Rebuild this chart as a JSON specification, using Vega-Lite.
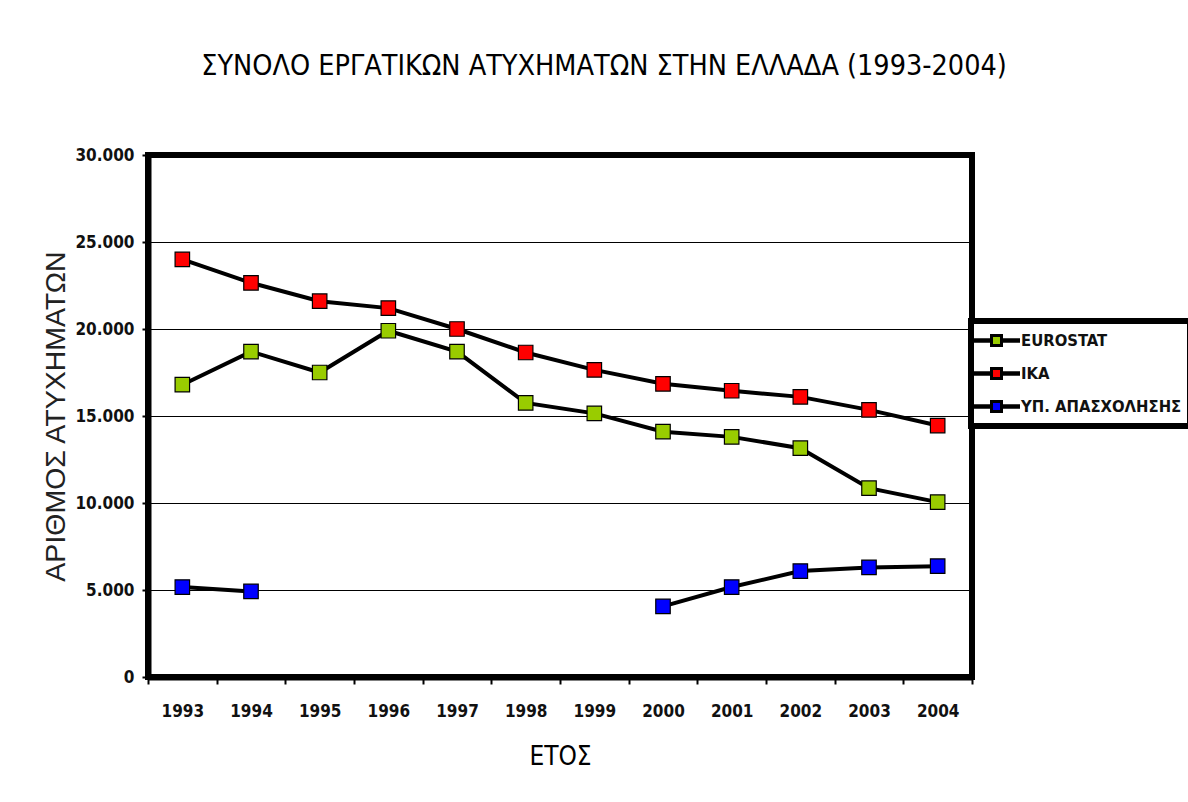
{
  "$schema": "https://vega.github.io/schema/vega-lite/v6.json",
  "width": 824,
  "height": 522,
  "autosize": "none",
  "padding": {"left": 148, "top": 155, "right": 216, "bottom": 125},
  "background": "white",
  "title": {
    "text": "ΣΥΝΟΛΟ ΕΡΓΑΤΙΚΩΝ ΑΤΥΧΗΜΑΤΩΝ ΣΤΗΝ ΕΛΛΑΔΑ (1993-2004)",
    "font": "DejaVu Sans Condensed, Liberation Sans, sans-serif",
    "fontSize": 28.5,
    "fontWeight": "normal",
    "color": "black",
    "anchor": "middle",
    "dx": 44,
    "offset": 66
  },
  "config": {
    "locale": {"number": {"decimal": ",", "thousands": ".", "grouping": [3], "currency": ["", " €"]}},
    "view": {"stroke": "black", "strokeWidth": 6}
  },
  "data": {
    "values": [
      {"year": "1993", "series": "EUROSTAT", "value": 16800},
      {"year": "1994", "series": "EUROSTAT", "value": 18700},
      {"year": "1995", "series": "EUROSTAT", "value": 17500},
      {"year": "1996", "series": "EUROSTAT", "value": 19900},
      {"year": "1997", "series": "EUROSTAT", "value": 18700},
      {"year": "1998", "series": "EUROSTAT", "value": 15750},
      {"year": "1999", "series": "EUROSTAT", "value": 15150},
      {"year": "2000", "series": "EUROSTAT", "value": 14100},
      {"year": "2001", "series": "EUROSTAT", "value": 13800},
      {"year": "2002", "series": "EUROSTAT", "value": 13150},
      {"year": "2003", "series": "EUROSTAT", "value": 10850},
      {"year": "2004", "series": "EUROSTAT", "value": 10050},
      {"year": "1993", "series": "ΙΚΑ", "value": 24000},
      {"year": "1994", "series": "ΙΚΑ", "value": 22650},
      {"year": "1995", "series": "ΙΚΑ", "value": 21600},
      {"year": "1996", "series": "ΙΚΑ", "value": 21200},
      {"year": "1997", "series": "ΙΚΑ", "value": 20000},
      {"year": "1998", "series": "ΙΚΑ", "value": 18650},
      {"year": "1999", "series": "ΙΚΑ", "value": 17650},
      {"year": "2000", "series": "ΙΚΑ", "value": 16850},
      {"year": "2001", "series": "ΙΚΑ", "value": 16450},
      {"year": "2002", "series": "ΙΚΑ", "value": 16100},
      {"year": "2003", "series": "ΙΚΑ", "value": 15350},
      {"year": "2004", "series": "ΙΚΑ", "value": 14450},
      {"year": "1993", "series": "ΥΠ. ΑΠΑΣΧΟΛΗΣΗΣ", "value": 5170},
      {"year": "1994", "series": "ΥΠ. ΑΠΑΣΧΟΛΗΣΗΣ", "value": 4920},
      {"year": "1995", "series": "ΥΠ. ΑΠΑΣΧΟΛΗΣΗΣ", "value": null},
      {"year": "1996", "series": "ΥΠ. ΑΠΑΣΧΟΛΗΣΗΣ", "value": null},
      {"year": "1997", "series": "ΥΠ. ΑΠΑΣΧΟΛΗΣΗΣ", "value": null},
      {"year": "1998", "series": "ΥΠ. ΑΠΑΣΧΟΛΗΣΗΣ", "value": null},
      {"year": "1999", "series": "ΥΠ. ΑΠΑΣΧΟΛΗΣΗΣ", "value": null},
      {"year": "2000", "series": "ΥΠ. ΑΠΑΣΧΟΛΗΣΗΣ", "value": 4060},
      {"year": "2001", "series": "ΥΠ. ΑΠΑΣΧΟΛΗΣΗΣ", "value": 5170},
      {"year": "2002", "series": "ΥΠ. ΑΠΑΣΧΟΛΗΣΗΣ", "value": 6090},
      {"year": "2003", "series": "ΥΠ. ΑΠΑΣΧΟΛΗΣΗΣ", "value": 6300},
      {"year": "2004", "series": "ΥΠ. ΑΠΑΣΧΟΛΗΣΗΣ", "value": 6370}
    ]
  },
  "encoding": {
    "x": {
      "field": "year",
      "type": "ordinal",
      "scale": {"type": "band", "paddingInner": 0, "paddingOuter": 0},
      "axis": {
        "title": "ΕΤΟΣ",
        "labelAngle": 0,
        "labelFont": "DejaVu Sans Condensed, Liberation Sans, sans-serif",
        "labelFontSize": 17,
        "labelFontWeight": "bold",
        "labelColor": "#111",
        "labelPadding": 19,
        "tickBand": "extent",
        "tickSize": 7,
        "tickWidth": 2,
        "tickColor": "black",
        "domainColor": "black",
        "domainWidth": 6,
        "grid": false,
        "titleFont": "DejaVu Sans Condensed, Liberation Sans, sans-serif",
        "titleFontSize": 26,
        "titleFontWeight": "normal",
        "titleColor": "black",
        "titlePadding": 24
      }
    },
    "y": {
      "field": "value",
      "type": "quantitative",
      "scale": {"domain": [0, 30000], "nice": false},
      "axis": {
        "title": "ΑΡΙΘΜΟΣ ΑΤΥΧΗΜΑΤΩΝ",
        "values": [0, 5000, 10000, 15000, 20000, 25000, 30000],
        "format": ",d",
        "labelFont": "DejaVu Sans Condensed, Liberation Sans, sans-serif",
        "labelFontSize": 17,
        "labelFontWeight": "bold",
        "labelColor": "#111",
        "labelPadding": 8,
        "tickSize": 6,
        "tickWidth": 2,
        "tickColor": "black",
        "domainColor": "black",
        "domainWidth": 6,
        "grid": true,
        "gridColor": "black",
        "gridWidth": 1.2,
        "titleFont": "Liberation Sans, sans-serif",
        "titleFontSize": 28.5,
        "titleFontWeight": "normal",
        "titleColor": "#222",
        "titlePadding": 4
      }
    }
  },
  "layer": [
    {
      "mark": {"type": "line", "color": "black", "strokeWidth": 4, "invalid": "break-paths-filter-domains"},
      "encoding": {"detail": {"field": "series"}}
    },
    {
      "mark": {"type": "point", "shape": "square", "filled": true, "size": 210, "stroke": "black", "strokeWidth": 1.2, "opacity": 1},
      "encoding": {
        "fill": {
          "field": "series",
          "type": "nominal",
          "scale": {"domain": ["EUROSTAT", "ΙΚΑ", "ΥΠ. ΑΠΑΣΧΟΛΗΣΗΣ"], "range": ["#99CC00", "#FF0000", "#0000FF"]},
          "legend": {
            "title": null,
            "orient": "none",
            "legendX": 823,
            "legendY": 166,
            "strokeColor": "black",
            "fillColor": "white",
            "padding": 8,
            "symbolType": "M-2.2,-0.08H-0.5V0.08H-2.2Z M0.5,-0.08H2.2V0.08H0.5Z M-0.5,-0.5H0.5V0.5H-0.5Z",
            "symbolSize": 400,
            "symbolOffset": 6,
            "symbolStrokeColor": "black",
            "symbolStrokeWidth": 3,
            "symbolOpacity": 1,
            "labelFont": "DejaVu Sans Condensed, Liberation Sans, sans-serif",
            "labelFontSize": 16.5,
            "labelFontWeight": "bold",
            "labelColor": "#111",
            "labelOffset": 13,
            "rowPadding": 10,
            "labelLimit": 300,
            "encode": {"legend": {"update": {"strokeWidth": {"value": 6}}}}
          }
        }
      }
    }
  ]
}
